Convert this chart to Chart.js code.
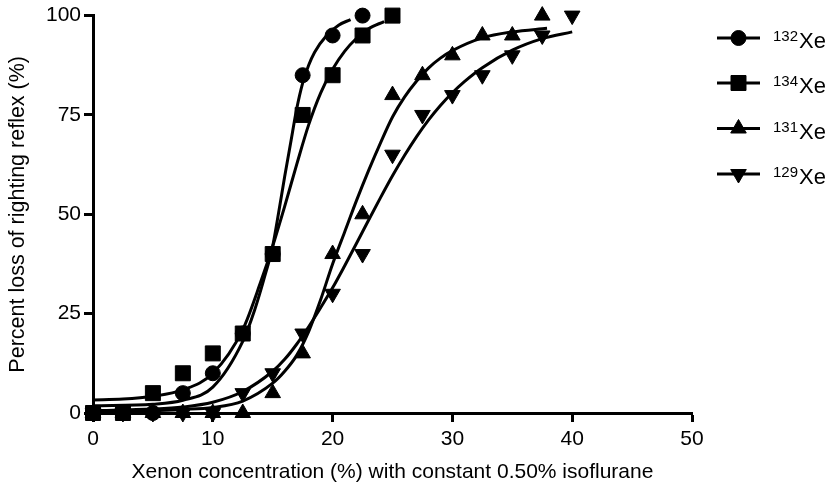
<!DOCTYPE html>
<html>
<head>
<meta charset="utf-8">
<script src="https://cdn.jsdelivr.net/npm/chart.js@4.4.0/dist/chart.umd.min.js"></script>
<style>
  html, body { margin: 0; padding: 0; background: #fff; }
  #wrap { width: 829px; height: 490px; }
</style>
</head>
<body>
<div id="wrap"><canvas id="c" width="829" height="490"></canvas></div>
<script>
// ---- Data ----
const xTicks = [0, 10, 20, 30, 40, 50];
const yTicks = [0, 25, 50, 75, 100];

const seriesNames = ["132", "134", "131", "129"]; // isotope mass numbers (superscripts) of Xe

// Measured points
const xe132X = [0, 2.5, 5, 7.5, 10, 12.5, 15, 17.5, 20, 22.5];
const xe132Y = [0, 0, 0, 5, 10, 20, 40, 85, 95, 100];
const xe134X = [0, 2.5, 5, 7.5, 10, 12.5, 15, 17.5, 20, 22.5, 25];
const xe134Y = [0, 0, 5, 10, 15, 20, 40, 75, 85, 95, 100];
const xe131X = [0, 2.5, 5, 7.5, 10, 12.5, 15, 17.5, 20, 22.5, 25, 27.5, 30, 32.5, 35, 37.5];
const xe131Y = [0, 0, 0, 0, 0, 0, 5, 15, 40, 50, 80, 85, 90, 95, 95, 100];
const xe129X = [0, 2.5, 5, 7.5, 10, 12.5, 15, 17.5, 20, 22.5, 25, 27.5, 30, 32.5, 35, 37.5, 40];
const xe129Y = [0, 0, 0, 0, 0, 5, 10, 20, 30, 40, 65, 75, 80, 85, 90, 95, 100];

// Fitted curves
const fit132X = [0, 5, 7.5, 10, 12.5, 13.5, 14.25, 15, 15.5, 16, 16.5, 17, 17.5, 18, 18.5, 19.5, 20.5, 21.5];
const fit132Y = [1.8, 2.2, 3.2, 6.5, 18, 26, 33.5, 42, 50.5, 59.5, 68, 76.5, 83, 87.5, 90.8, 95, 97.6, 99];
const fit134X = [0, 2.5, 5, 7.5, 10, 12.5, 14, 15, 16, 17, 18, 19, 20, 21, 22, 23, 24.3];
const fit134Y = [3.3, 3.5, 4.2, 5.8, 10, 21, 33, 42, 52, 62.5, 72.5, 80.5, 86.5, 91, 94.3, 96.7, 98.5];
const fit131X = [0, 5, 7.5, 10, 12.5, 15, 16, 17, 18, 19, 20, 21, 22, 23, 24, 25, 26, 27, 28, 29, 30, 32.5, 35, 37.9];
const fit131Y = [0.5, 0.6, 0.9, 1.4, 3, 7.5, 10.5, 14.5, 20.5, 28.5, 37.5, 45.5, 53.5, 61, 68, 74.5, 79.5, 83.5, 86.8, 89.3, 91.2, 94.4, 95.9, 96.8];
const fit129X = [0, 5, 7.5, 10, 12.5, 15, 16, 17, 18, 19, 20, 21, 22, 23, 24, 25, 26, 27, 28, 29, 30, 31, 32.5, 35, 37.5, 40];
const fit129Y = [0.6, 1, 1.5, 2.7, 5.4, 10.5, 13.5, 17.3, 21.7, 26.5, 31.5, 37, 42.7, 48.5, 54.2, 59.7, 64.8, 69.5, 73.7, 77.4, 80.6, 83.4, 86.9, 91.3, 94.2, 95.9];

const xTitle = "Xenon concentration (%) with constant 0.50% isoflurane";
const yTitle = "Percent loss of righting reflex (%)";

// ---- Styles ----
const FONT = "'Liberation Sans', Arial, Helvetica, sans-serif";
const INK = "#000";
const markerStyles = [
  { pointStyle: 'circle', radius: 7.5, rotation: 0 },
  { pointStyle: 'rect', radius: 10.6, rotation: 0 },
  { pointStyle: 'triangle', radius: 9, rotation: 0 },
  { pointStyle: 'triangle', radius: 9, rotation: 180 }
];

const zip = (xs, ys) => xs.map((x, i) => ({ x: x, y: ys[i] }));
const pointSets = [zip(xe132X, xe132Y), zip(xe134X, xe134Y), zip(xe131X, xe131Y), zip(xe129X, xe129Y)];
const fitSets = [zip(fit132X, fit132Y), zip(fit134X, fit134Y), zip(fit131X, fit131Y), zip(fit129X, fit129Y)];

const datasets = [];
pointSets.forEach((d, i) => {
  const m = markerStyles[i];
  datasets.push({
    label: seriesNames[i] + "Xe",
    data: d,
    showLine: false,
    pointStyle: m.pointStyle,
    pointRadius: m.radius,
    pointRotation: m.rotation,
    pointBackgroundColor: INK,
    pointBorderColor: INK,
    pointBorderWidth: 1,
    pointHoverRadius: m.radius,
    clip: false
  });
});
fitSets.forEach((d, i) => {
  datasets.push({
    label: "fit " + seriesNames[i],
    data: d,
    showLine: true,
    borderColor: INK,
    borderWidth: 3,
    pointRadius: 0,
    pointHoverRadius: 0,
    cubicInterpolationMode: 'monotone',
    fill: false,
    clip: false
  });
});

// Legend with line-through markers and superscripted mass numbers
const legendPlugin = {
  id: 'xeLegend',
  afterDraw(chart) {
    const ctx = chart.ctx;
    const x0 = 717, x1 = 760, xm = 738.5, tx = 773;
    const ys = [38, 83, 128.5, 174];
    ctx.save();
    seriesNames.forEach((name, i) => {
      const y = ys[i];
      const m = markerStyles[i];
      ctx.strokeStyle = INK;
      ctx.fillStyle = INK;
      ctx.lineWidth = 3;
      ctx.beginPath();
      ctx.moveTo(x0, y);
      ctx.lineTo(x1, y);
      ctx.stroke();
      ctx.lineWidth = 1;
      Chart.helpers.drawPoint(ctx, {
        pointStyle: m.pointStyle, radius: m.radius, rotation: m.rotation, borderWidth: 1
      }, xm, y);
      ctx.textAlign = 'left';
      ctx.textBaseline = 'alphabetic';
      ctx.font = "15px " + FONT;
      ctx.fillText(name, tx, y + 3);
      const w = ctx.measureText(name).width;
      ctx.font = "22px " + FONT;
      ctx.fillText("Xe", tx + w + 1, y + 10);
    });
    ctx.restore();
  }
};

new Chart(document.getElementById('c'), {
  type: 'scatter',
  data: { datasets: datasets },
  options: {
    responsive: false,
    animation: false,
    events: [],
    layout: { padding: { left: 0, right: 137, top: 15, bottom: 0 } },
    plugins: { legend: { display: false }, tooltip: { enabled: false } },
    scales: {
      x: {
        type: 'linear', min: 0, max: 50,
        afterBuildTicks: (s) => { s.ticks = xTicks.map(v => ({ value: v })); },
        afterFit: (s) => { s.height = 77; },
        ticks: { font: { family: FONT, size: 21 }, color: INK, padding: 5, maxRotation: 0 },
        grid: { display: true, drawOnChartArea: false, drawTicks: true, tickLength: 9, tickWidth: 3, tickColor: INK },
        border: { display: true, color: INK, width: 3 },
        title: { display: true, text: xTitle, color: INK, font: { family: FONT, size: 21 }, padding: { top: 0, bottom: 5 } }
      },
      y: {
        type: 'linear', min: 0, max: 100,
        afterBuildTicks: (s) => { s.ticks = yTicks.map(v => ({ value: v })); },
        afterFit: (s) => { s.width = 93; },
        ticks: { font: { family: FONT, size: 21 }, color: INK, padding: 3 },
        grid: { display: true, drawOnChartArea: false, drawTicks: true, tickLength: 9, tickWidth: 3, tickColor: INK },
        border: { display: true, color: INK, width: 3 },
        title: { display: true, text: yTitle, color: INK, font: { family: FONT, size: 21.5 }, padding: { top: 5, bottom: 0 } }
      }
    }
  },
  plugins: [legendPlugin]
});
</script>
</body>
</html>
